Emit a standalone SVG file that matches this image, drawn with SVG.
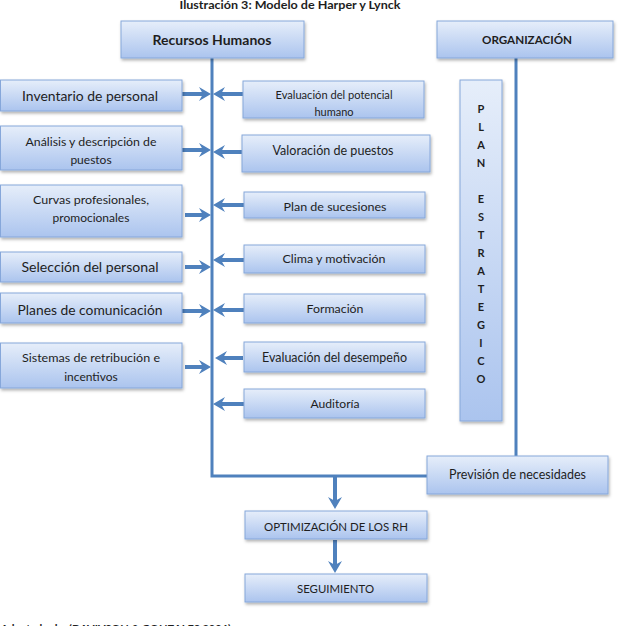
<svg xmlns="http://www.w3.org/2000/svg" width="620" height="626" viewBox="0 0 620 626">
  <style>
    .box { fill: url(#bg); stroke: #86a7da; stroke-width: 1; filter: url(#sh); }
    .t { font-family: Lato, "Liberation Sans", sans-serif; fill: #1e1e1e; text-anchor: middle; }
    .b { font-weight: bold; }
    .ln { stroke: #4f81bd; stroke-width: 3; fill: none; }
    .ar { stroke: #4f81bd; stroke-width: 4; fill: none; marker-end: url(#ah); }
  </style>
  <defs>
    <linearGradient id="bg" x1="0" y1="0" x2="0" y2="1">
      <stop offset="0" stop-color="#e6eefa"/>
      <stop offset="1" stop-color="#abc4ee"/>
    </linearGradient>
    <filter id="sh" x="-10%" y="-20%" width="120%" height="150%">
      <feDropShadow dx="1" dy="2" stdDeviation="1.5" flood-color="#000" flood-opacity="0.3"/>
    </filter>
    <marker id="ah" viewBox="0 0 12 14" refX="4" refY="7" markerWidth="12" markerHeight="14" markerUnits="userSpaceOnUse" orient="auto">
      <path d="M0,0 L12,7 L0,14 L4,7 z" fill="#4f81bd"/>
    </marker>
    <clipPath id="cpev"><rect x="243" y="81" width="181" height="37"/></clipPath>
  </defs>

  <text class="t b" x="290" y="9" font-size="10.5" textLength="221" lengthAdjust="spacingAndGlyphs">Ilustración 3: Modelo de Harper y Lynck</text>

  <g id="connectors">
    <path class="ln" d="M212,58 V476 H427"/>
    <path class="ln" d="M516,58 V456"/>
    <line class="ar" x1="182" y1="94" x2="203" y2="94"/>
    <line class="ar" x1="182" y1="150" x2="203" y2="150"/>
    <line class="ar" x1="185" y1="215" x2="203" y2="215"/>
    <line class="ar" x1="185" y1="267" x2="203" y2="267"/>
    <line class="ar" x1="182" y1="311" x2="203" y2="311"/>
    <line class="ar" x1="185" y1="367" x2="203" y2="367"/>
    <line class="ar" x1="243" y1="94" x2="221" y2="94"/>
    <line class="ar" x1="242" y1="152" x2="221" y2="152"/>
    <line class="ar" x1="244" y1="205" x2="221" y2="205"/>
    <line class="ar" x1="244" y1="260" x2="221" y2="260"/>
    <line class="ar" x1="244" y1="310" x2="221" y2="310"/>
    <line class="ar" x1="243" y1="358" x2="223" y2="358"/>
    <line class="ar" x1="244" y1="404" x2="221" y2="404"/>
    <line class="ar" x1="335" y1="477" x2="335" y2="501"/>
    <line class="ar" x1="335" y1="540" x2="335" y2="565"/>
  </g>

  <g id="recursos-humanos">
    <rect class="box" x="121" y="21" width="183" height="37"/>
    <text class="t b" x="212" y="45" font-size="13.5" textLength="119" lengthAdjust="spacingAndGlyphs">Recursos Humanos</text>
  </g>
  <g id="organizacion">
    <rect class="box" x="437" y="21" width="176" height="37"/>
    <text class="t b" x="527" y="44" font-size="11.5" textLength="90" lengthAdjust="spacingAndGlyphs">ORGANIZACIÓN</text>
  </g>

  <g id="inventario">
    <rect class="box" x="0.5" y="80" width="181.5" height="31"/>
    <text class="t" x="90" y="101" font-size="14" textLength="136" lengthAdjust="spacingAndGlyphs">Inventario de personal</text>
  </g>
  <g id="analisis">
    <rect class="box" x="0.5" y="126" width="181.5" height="44"/>
    <text class="t" x="91" y="146" font-size="12" textLength="131" lengthAdjust="spacingAndGlyphs">Análisis y descripción de</text>
    <text class="t" x="91" y="164" font-size="12">puestos</text>
  </g>
  <g id="curvas">
    <rect class="box" x="0.5" y="185" width="181.5" height="52"/>
    <text class="t" x="91" y="204" font-size="12" textLength="116" lengthAdjust="spacingAndGlyphs">Curvas profesionales,</text>
    <text class="t" x="91" y="222" font-size="12">promocionales</text>
  </g>
  <g id="seleccion">
    <rect class="box" x="0.5" y="252" width="181.5" height="30"/>
    <text class="t" x="90" y="272" font-size="14" textLength="137" lengthAdjust="spacingAndGlyphs">Selección del  personal</text>
  </g>
  <g id="planes">
    <rect class="box" x="0.5" y="293" width="181.5" height="30"/>
    <text class="t" x="90" y="315" font-size="14" textLength="145" lengthAdjust="spacingAndGlyphs">Planes de comunicación</text>
  </g>
  <g id="sistemas">
    <rect class="box" x="0.5" y="343" width="181.5" height="45"/>
    <text class="t" x="91" y="362" font-size="12" textLength="138" lengthAdjust="spacingAndGlyphs">Sistemas de retribución e</text>
    <text class="t" x="91" y="381" font-size="12">incentivos</text>
  </g>

  <g id="evaluacion-potencial">
    <rect class="box" x="243" y="81" width="181" height="37"/>
    <g clip-path="url(#cpev)">
      <text class="t" x="334" y="99" font-size="11" textLength="117" lengthAdjust="spacingAndGlyphs">Evaluación del potencial</text>
      <text class="t" x="334" y="116" font-size="11">humano</text>
    </g>
  </g>
  <g id="valoracion">
    <rect class="box" x="242" y="135" width="188" height="37"/>
    <text class="t" x="333" y="155" font-size="13" textLength="121" lengthAdjust="spacingAndGlyphs">Valoración de puestos</text>
  </g>
  <g id="sucesiones">
    <rect class="box" x="244" y="192" width="181" height="26"/>
    <text class="t" x="335" y="211" font-size="12" textLength="103" lengthAdjust="spacingAndGlyphs">Plan de sucesiones</text>
  </g>
  <g id="clima">
    <rect class="box" x="244" y="245" width="181" height="28"/>
    <text class="t" x="334" y="263" font-size="12" textLength="103" lengthAdjust="spacingAndGlyphs">Clima y motivación</text>
  </g>
  <g id="formacion">
    <rect class="box" x="244" y="294" width="181" height="29"/>
    <text class="t" x="335" y="313" font-size="12" textLength="57" lengthAdjust="spacingAndGlyphs">Formación</text>
  </g>
  <g id="desempeno">
    <rect class="box" x="244" y="342" width="181" height="30"/>
    <text class="t" x="334.5" y="362" font-size="13" textLength="145" lengthAdjust="spacingAndGlyphs">Evaluación del desempeño</text>
  </g>
  <g id="auditoria">
    <rect class="box" x="244" y="389" width="181" height="29"/>
    <text class="t" x="335" y="408" font-size="12" textLength="49" lengthAdjust="spacingAndGlyphs">Auditoría</text>
  </g>

  <g id="plan-estrategico">
    <rect class="box" x="460" y="80" width="42" height="341"/>
    <g class="t b" font-size="11">
      <text x="481" y="113">P</text>
      <text x="481" y="131">L</text>
      <text x="481" y="149">A</text>
      <text x="481" y="167">N</text>
      <text x="481" y="203">E</text>
      <text x="481" y="221">S</text>
      <text x="481" y="239">T</text>
      <text x="481" y="257">R</text>
      <text x="481" y="275">A</text>
      <text x="481" y="293">T</text>
      <text x="481" y="311">E</text>
      <text x="481" y="329">G</text>
      <text x="481" y="347">I</text>
      <text x="481" y="365">C</text>
      <text x="481" y="383">O</text>
    </g>
  </g>

  <g id="prevision">
    <rect class="box" x="427" y="456" width="181" height="38"/>
    <text class="t" x="517.5" y="479" font-size="13" textLength="137" lengthAdjust="spacingAndGlyphs">Previsión de necesidades</text>
  </g>
  <g id="optimizacion">
    <rect class="box" x="245" y="511" width="182" height="28"/>
    <text class="t" x="336" y="531" font-size="12" textLength="144" lengthAdjust="spacingAndGlyphs">OPTIMIZACIÓN DE LOS RH</text>
  </g>
  <g id="seguimiento">
    <rect class="box" x="245" y="574" width="182" height="28"/>
    <text class="t" x="335.5" y="593" font-size="12" textLength="77" lengthAdjust="spacingAndGlyphs">SEGUIMIENTO</text>
  </g>

  <text class="t b" x="231" y="633" font-size="11" style="text-anchor:end">Fuente: Adaptado de: (DAVIVSON &amp; GONZALES 2006)</text>
</svg>
